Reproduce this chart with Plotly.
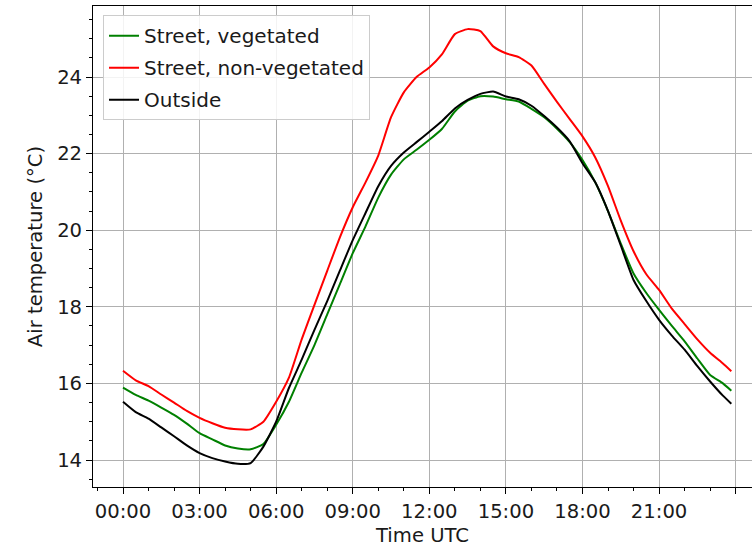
import plotly.graph_objects as go

# Time in hours (UTC), half-hourly plus final 23:50 sample
hours = [0.0, 0.5, 1.0, 1.5, 2.0, 2.5, 3.0, 3.5, 4.0, 4.5, 5.0, 5.5,
         6.0, 6.5, 7.0, 7.5, 8.0, 8.5, 9.0, 9.5, 10.0, 10.5, 11.0, 11.5,
         12.0, 12.5, 13.0, 13.5, 14.0, 14.5, 15.0, 15.5, 16.0, 16.5, 17.0, 17.5,
         18.0, 18.5, 19.0, 19.5, 20.0, 20.5, 21.0, 21.5, 22.0, 22.5, 23.0, 23.5, 23.83]

street_vegetated = [15.89, 15.70, 15.55, 15.37, 15.18, 14.95, 14.70, 14.54, 14.38, 14.30, 14.28, 14.42,
                    14.92, 15.52, 16.28, 17.00, 17.80, 18.60, 19.40, 20.10, 20.85, 21.45, 21.85, 22.10,
                    22.36, 22.65, 23.10, 23.38, 23.50, 23.49, 23.42, 23.36, 23.17, 22.95, 22.65, 22.30,
                    21.83, 21.25, 20.50, 19.65, 18.87, 18.36, 17.92, 17.50, 17.10, 16.65, 16.22, 16.00, 15.81]

street_nonveg = [16.33, 16.08, 15.93, 15.71, 15.50, 15.28, 15.10, 14.96, 14.84, 14.80, 14.80, 15.00,
                 15.52, 16.15, 17.15, 18.05, 18.94, 19.82, 20.60, 21.25, 21.95, 22.95, 23.60, 24.00,
                 24.25, 24.60, 25.12, 25.25, 25.20, 24.80, 24.62, 24.52, 24.30, 23.82, 23.35, 22.90,
                 22.45, 21.90, 21.15, 20.25, 19.45, 18.85, 18.44, 17.95, 17.55, 17.15, 16.80, 16.52, 16.32]

outside = [15.52, 15.25, 15.08, 14.85, 14.62, 14.38, 14.18, 14.05, 13.96, 13.90, 13.92, 14.35,
           15.00, 15.88, 16.62, 17.40, 18.15, 18.95, 19.74, 20.45, 21.15, 21.68, 22.03, 22.30,
           22.57, 22.85, 23.18, 23.40, 23.56, 23.62, 23.49, 23.42, 23.25, 22.98, 22.68, 22.32,
           21.75, 21.25, 20.50, 19.60, 18.70, 18.15, 17.66, 17.25, 16.88, 16.45, 16.05, 15.68, 15.47]

x_tickvals = [0, 3, 6, 9, 12, 15, 18, 21, 24]
x_ticktext = ["00:00", "03:00", "06:00", "09:00", "12:00", "15:00", "18:00", "21:00", ""]
y_tickvals = [14, 16, 18, 20, 22, 24]

series = [
    ("Street, vegetated", street_vegetated, "#008000"),
    ("Street, non-vegetated", street_nonveg, "#ff0000"),
    ("Outside", outside, "#000000"),
]

FONT = "DejaVu Sans"
FS = 19.6
TXT = "#1a1a1a"

fig = go.Figure()
for i, (name, vals, col) in enumerate(series):
    fig.add_trace(go.Scatter(x=hours, y=vals, mode="lines", name=name,
                             legendgroup=f"g{i}",
                             line=dict(color=col, width=2, shape="spline", smoothing=0.5)))

fig.update_layout(
    width=752, height=547,
    margin=dict(l=93, r=0, t=6, b=60),
    paper_bgcolor="white", plot_bgcolor="white",
    font=dict(family=FONT, size=FS, color=TXT),
    showlegend=True,
    legend=dict(x=0.0152, y=0.981, xanchor="left", yanchor="top",
                bgcolor="rgba(255,255,255,0.85)", bordercolor="#cccccc", borderwidth=1,
                font=dict(family=FONT, size=20, color=TXT),
                traceorder="grouped", tracegroupgap=3),
)

fig.update_xaxes(
    range=[-1.175, 24.64],
    tickmode="array", tickvals=x_tickvals, ticktext=x_ticktext,
    ticks="outside", ticklen=6, tickwidth=1, tickcolor="black",
    showline=True, linecolor="black", linewidth=1, mirror=True,
    showgrid=True, gridcolor="#b0b0b0", gridwidth=1,
    zeroline=False,
    minor=dict(tickmode="linear", tick0=0, dtick=1, ticks="outside", ticklen=3,
               tickcolor="black", tickwidth=1, showgrid=False),
    title=dict(text="Time UTC", font=dict(family=FONT, size=FS, color=TXT), standoff=7),
    tickfont=dict(family=FONT, size=FS, color=TXT),
)
fig.update_yaxes(
    range=[13.295, 25.854],
    tickmode="array", tickvals=y_tickvals,
    ticks="outside", ticklen=6, tickwidth=1, tickcolor="black",
    showline=True, linecolor="black", linewidth=1, mirror=False,
    showgrid=True, gridcolor="#b0b0b0", gridwidth=1,
    zeroline=False,
    minor=dict(tickmode="linear", tick0=0, dtick=0.5, ticks="outside", ticklen=3,
               tickcolor="black", tickwidth=1, showgrid=False),
    title=dict(text="Air temperature (°C)", font=dict(family=FONT, size=FS, color=TXT), standoff=9),
    tickfont=dict(family=FONT, size=FS, color=TXT),
)

fig.write_html("out.html")
